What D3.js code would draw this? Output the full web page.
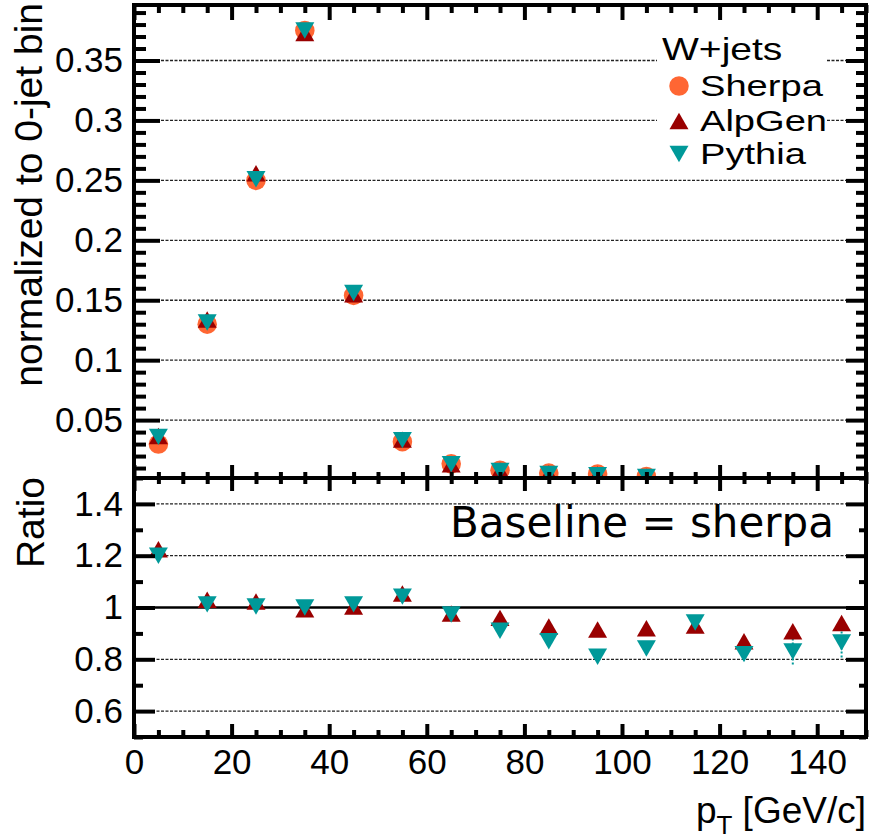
<!DOCTYPE html>
<html>
<head>
<meta charset="utf-8">
<script src="https://cdn.jsdelivr.net/npm/d3@7/dist/d3.min.js"></script>
<style>
  body { margin: 0; background: #fff; }
  svg { display: block; }
</style>
</head>
<body>
<div id="chart"></div>
<script>
// bin centres (pT, GeV/c)
var ptBins = [5, 15, 25, 35, 45, 55, 65, 75, 85, 95, 105, 115, 125, 135, 145];

// top panel: normalized to 0-jet bin
var sherpa = [0.030, 0.130, 0.250, 0.375, 0.154, 0.032, 0.0135, 0.0082, 0.0058, 0.0051, 0.0030, 0.0016, 0.0012, 0.0009, 0.0007];
var alpgen = [0.0367, 0.134, 0.256, 0.373, 0.155, 0.0337, 0.0132, 0.0079, 0.0054, 0.0047, 0.0028, 0.0015, 0.0010, 0.0008, 0.0007];
var pythia = [0.0360, 0.1315, 0.251, 0.375, 0.156, 0.0333, 0.0131, 0.0075, 0.0050, 0.0041, 0.0025, 0.0015, 0.0010, 0.0007, 0.0006];

// bottom panel: ratio to sherpa
var alpgenRatio = [1.225, 1.03, 1.023, 0.993, 1.004, 1.054, 0.977, 0.96, 0.927, 0.915, 0.92, 0.93, 0.87, 0.908, 0.94];
var pythiaRatio = [1.20, 1.012, 1.004, 1.0, 1.012, 1.042, 0.973, 0.91, 0.87, 0.81, 0.842, 0.942, 0.82, 0.83, 0.865];
var pythiaRatioErr = [0, 0, 0, 0, 0, 0, 0, 0, 0, 0, 0, 0, 0, 0.05, 0.058];

var xTickValues = [0, 20, 40, 60, 80, 100, 120, 140];
var yTopTickValues = [0.05, 0.1, 0.15, 0.2, 0.25, 0.3, 0.35];
var yTopTickLabels = ["0.05", "0.1", "0.15", "0.2", "0.25", "0.3", "0.35"];
var yRatioTickValues = [0.6, 0.8, 1, 1.2, 1.4];
var yRatioTickLabels = ["0.6", "0.8", "1", "1.2", "1.4"];

var legendTitle = "W+jets";
var legendNames = ["Sherpa", "AlpGen", "Pythia"];
var seriesColors = ["#ff6633", "#990000", "#009999"];

var width = 869, height = 839;
var left = 134, right = 866, top1 = 5, bottom1 = 478, bottom2 = 737;
var font = "'Liberation Sans', Arial, sans-serif";

var svg = d3.select("#chart").append("svg")
    .attr("width", width)
    .attr("height", height);

var x = d3.scaleLinear().domain([0, 150]).range([left, right]);
var yTop = d3.scaleLinear().domain([0.0017, 0.3963]).range([bottom1, top1]);
var yRat = d3.scaleLinear().domain([0.5, 1.5]).range([bottom2, bottom1]);

var xMinor = d3.range(0, 151, 5).filter(function(v){ return v % 20 !== 0; });
var yTopMinor = d3.range(1, 40).map(function(i){ return i / 100; })
    .filter(function(v){ return Math.round(v * 100) % 5 !== 0; });
var yRatMinor = [0.5, 0.7, 0.9, 1.1, 1.3, 1.5];

svg.append("defs").append("clipPath").attr("id", "clipTop")
    .append("rect")
    .attr("x", left).attr("y", top1)
    .attr("width", right - left).attr("height", bottom1 - top1);

// grid lines
function grid(scale, values, dashedTest){
    svg.append("g").selectAll("line")
        .data(values)
        .enter().append("line")
        .attr("x1", left).attr("x2", right)
        .attr("y1", function(d){ return scale(d); })
        .attr("y2", function(d){ return scale(d); })
        .attr("stroke", function(d){ return dashedTest(d) ? "#222" : "#000"; })
        .attr("stroke-width", function(d){ return dashedTest(d) ? 1.3 : 2.5; })
        .attr("stroke-dasharray", function(d){ return dashedTest(d) ? "3,1.5" : null; });
}
grid(yTop, yTopTickValues, function(){ return true; });
grid(yRat, yRatioTickValues, function(d){ return d !== 1; });

// legend box (white, hides grid)
svg.append("rect")
    .attr("x", 657).attr("y", 28)
    .attr("width", 169).attr("height", 144)
    .attr("fill", "#fff");

var triSize = 156, circSize = 300, triShift = 2.74;
var circle = d3.symbol().type(d3.symbolCircle).size(circSize);
var tri = d3.symbol().type(d3.symbolTriangle).size(triSize);

function markers(g, yScale, vals, kind, color, clip){
    var pts = ptBins.map(function(p, i){ return {x: p, v: vals[i]}; })
        .filter(function(d){ return d.v >= yScale.domain()[0] && d.v <= yScale.domain()[1]; });
    var sel = g.append("g");
    if (clip) sel.attr("clip-path", "url(#clipTop)");
    sel.selectAll("path")
        .data(pts)
        .enter().append("path")
        .attr("d", kind === "circle" ? circle : tri)
        .attr("fill", color)
        .attr("transform", function(d){
            if (kind === "circle") return "translate(" + x(d.x) + "," + yScale(d.v) + ")";
            if (kind === "up") return "translate(" + x(d.x) + "," + (yScale(d.v) + triShift) + ")";
            return "translate(" + x(d.x) + "," + (yScale(d.v) - triShift) + ") rotate(180)";
        });
}

var gTop = svg.append("g");
markers(gTop, yTop, sherpa, "circle", seriesColors[0], true);
markers(gTop, yTop, alpgen, "up", seriesColors[1], true);
markers(gTop, yTop, pythia, "down", seriesColors[2], true);

var gRat = svg.append("g");
// pythia error bars
gRat.append("g").selectAll("line")
    .data(ptBins.map(function(p, i){ return {x: p, v: pythiaRatio[i], e: pythiaRatioErr[i]}; })
        .filter(function(d){ return d.e > 0; }))
    .enter().append("line")
    .attr("x1", function(d){ return x(d.x); })
    .attr("x2", function(d){ return x(d.x); })
    .attr("y1", function(d){ return yRat(d.v - d.e); })
    .attr("y2", function(d){ return yRat(d.v + d.e); })
    .attr("stroke", seriesColors[2])
    .attr("stroke-width", 2)
    .attr("stroke-dasharray", "2,2");
markers(gRat, yRat, alpgenRatio, "up", seriesColors[1], false);
markers(gRat, yRat, pythiaRatio, "down", seriesColors[2], false);

// ticks
function ticks(axis, tx, ty){
    var g = svg.append("g")
        .attr("transform", "translate(" + tx + "," + ty + ")")
        .call(axis);
    g.select(".domain").remove();
    g.selectAll(".tick line").attr("stroke", "#000").attr("stroke-width", 4);
    g.selectAll(".tick text").remove();
    return g;
}
var noLab = function(){ return ""; };

// horizontal axes
ticks(d3.axisTop(x).tickValues(xTickValues).tickSize(-15).tickFormat(noLab), 0, top1);
ticks(d3.axisTop(x).tickValues(xMinor).tickSize(-8).tickFormat(noLab), 0, top1);
ticks(d3.axisBottom(x).tickValues(xTickValues).tickSize(-13).tickFormat(noLab), 0, bottom1);
ticks(d3.axisBottom(x).tickValues(xMinor).tickSize(-6).tickFormat(noLab), 0, bottom1);
ticks(d3.axisTop(x).tickValues(xTickValues).tickSize(-13).tickFormat(noLab), 0, bottom1);
ticks(d3.axisTop(x).tickValues(xMinor).tickSize(-6).tickFormat(noLab), 0, bottom1);
ticks(d3.axisBottom(x).tickValues(xTickValues).tickSize(-13).tickFormat(noLab), 0, bottom2);
ticks(d3.axisBottom(x).tickValues(xMinor).tickSize(-7).tickFormat(noLab), 0, bottom2);

// vertical axes
ticks(d3.axisRight(yTop).tickValues(yTopTickValues).tickSize(26).tickFormat(noLab), left, 0);
ticks(d3.axisRight(yTop).tickValues(yTopMinor).tickSize(12).tickFormat(noLab), left, 0);
ticks(d3.axisLeft(yTop).tickValues(yTopTickValues).tickSize(20).tickFormat(noLab), right, 0);
ticks(d3.axisLeft(yTop).tickValues(yTopMinor).tickSize(10).tickFormat(noLab), right, 0);
ticks(d3.axisRight(yRat).tickValues(yRatioTickValues).tickSize(21).tickFormat(noLab), left, 0);
ticks(d3.axisRight(yRat).tickValues(yRatMinor).tickSize(9).tickFormat(noLab), left, 0);
ticks(d3.axisLeft(yRat).tickValues(yRatioTickValues).tickSize(20).tickFormat(noLab), right, 0);
ticks(d3.axisLeft(yRat).tickValues(yRatMinor).tickSize(7).tickFormat(noLab), right, 0);

// frames
[[top1, bottom1], [bottom1, bottom2]].forEach(function(r){
    svg.append("rect")
        .attr("x", left).attr("y", r[0])
        .attr("width", right - left).attr("height", r[1] - r[0])
        .attr("fill", "none")
        .attr("stroke", "#000")
        .attr("stroke-width", 4);
});

// tick labels
function labels(axis, tx, ty){
    var g = svg.append("g")
        .attr("transform", "translate(" + tx + "," + ty + ")")
        .call(axis);
    g.select(".domain").remove();
    g.selectAll(".tick line").remove();
    g.selectAll(".tick text")
        .attr("fill", "#000")
        .style("font-family", font)
        .style("font-size", "35px");
    return g;
}
labels(d3.axisLeft(yTop).tickValues(yTopTickValues).tickSize(0).tickPadding(11)
    .tickFormat(function(d, i){ return yTopTickLabels[i]; }), left, 0);
labels(d3.axisLeft(yRat).tickValues(yRatioTickValues).tickSize(0).tickPadding(11)
    .tickFormat(function(d, i){ return yRatioTickLabels[i]; }), left, 0);
labels(d3.axisBottom(x).tickValues(xTickValues).tickSize(0).tickPadding(12)
    .tickFormat(d3.format("d")), 0, bottom2);

// axis titles
svg.append("text")
    .attr("transform", "translate(42,3) rotate(-90)")
    .attr("text-anchor", "end")
    .style("font-family", font)
    .style("font-size", "39px")
    .text("normalized to 0-jet bin");

svg.append("text")
    .attr("transform", "translate(44,477) rotate(-90)")
    .attr("text-anchor", "end")
    .style("font-family", font)
    .style("font-size", "39px")
    .text("Ratio");

var xt = svg.append("text")
    .attr("x", right).attr("y", 823)
    .attr("text-anchor", "end")
    .style("font-family", font)
    .style("font-size", "37px");
xt.append("tspan").text("p");
xt.append("tspan").attr("dy", 11).style("font-size", "26px").text("T");
xt.append("tspan").attr("dy", -11).text(" [GeV/c]");

// baseline note
svg.append("text")
    .attr("x", 450).attr("y", 537)
    .style("font-family", "'DejaVu Sans', sans-serif")
    .style("font-size", "42px")
    .text("Baseline = sherpa");

// legend (text a bit wider than tall, as in the reference)
var leg = svg.append("g").style("font-family", font).style("font-size", "30px");
leg.append("text")
    .attr("transform", "translate(662,60) scale(1.22,1)")
    .style("font-size", "32px")
    .text(legendTitle);
var legRows = [86, 121, 154];
var legKinds = ["circle", "up", "down"];
legendNames.forEach(function(name, i){
    var cy = legRows[i];
    var p = leg.append("path")
        .attr("d", legKinds[i] === "circle" ? circle : tri)
        .attr("fill", seriesColors[i]);
    if (legKinds[i] === "circle") p.attr("transform", "translate(679," + cy + ")");
    else if (legKinds[i] === "up") p.attr("transform", "translate(679," + (cy + triShift) + ")");
    else p.attr("transform", "translate(679," + (cy - triShift) + ") rotate(180)");
    leg.append("text")
        .attr("transform", "translate(700," + (cy + 10) + ") scale(1.27,1)")
        .text(name);
});
</script>
</body>
</html>
